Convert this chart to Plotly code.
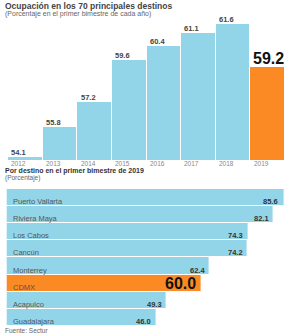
import plotly.graph_objects as go

years = [2012, 2013, 2014, 2015, 2016, 2017, 2018, 2019]
occupancy = [54.1, 55.8, 57.2, 59.6, 60.4, 61.1, 61.6, 59.2]

destinations = ["Puerto Vallarta", "Riviera Maya", "Los Cabos", "Cancún",
                "Monterrey", "CDMX", "Acapulco", "Guadalajara"]
dest_values = [85.6, 82.1, 74.3, 74.2, 62.4, 60.0, 49.3, 46.0]

title1 = "Ocupación en los 70 principales destinos"
sub1 = "(Porcentaje en el primer bimestre de cada año)"
title2 = "Por destino en el primer bimestre de 2019"
sub2 = "(Porcentaje)"
source = "Fuente: Sectur"

BLUE = "#93D5E8"
ORANGE = "#FB8A24"
FONT = "Liberation Sans"
W, H = 285, 333

def py(px):
    return 1 - px / H

top_colors = [ORANGE if y == 2019 else BLUE for y in years]
bot_colors = [ORANGE if d == "CDMX" else BLUE for d in destinations]

fig = go.Figure()
fig.add_trace(go.Bar(x=years, y=occupancy, marker=dict(color=top_colors, line=dict(color="white", width=1)),
                     xaxis="x", yaxis="y", hoverinfo="skip"))
fig.add_trace(go.Bar(y=destinations, x=dest_values, orientation="h",
                     marker=dict(color=bot_colors, line=dict(color="white", width=1)),
                     xaxis="x2", yaxis="y2", hoverinfo="skip"))

ann = []
ann.append(dict(text="<b>" + title1 + "</b>", x=3 / W, y=py(5.5), xref="paper", yref="paper",
                xanchor="left", yanchor="middle", showarrow=False, font=dict(size=8.5, color="#444", family=FONT)))
ann.append(dict(text=sub1, x=3 / W, y=py(13.5), xref="paper", yref="paper",
                xanchor="left", yanchor="middle", showarrow=False, font=dict(size=7, color="#666", family=FONT)))
ann.append(dict(text="<b>" + title2 + "</b>", x=3 / W, y=py(171), xref="paper", yref="paper",
                xanchor="left", yanchor="middle", showarrow=False, font=dict(size=7, color="#333", family=FONT)))
ann.append(dict(text=sub2, x=3 / W, y=py(178), xref="paper", yref="paper",
                xanchor="left", yanchor="middle", showarrow=False, font=dict(size=6.5, color="#666", family=FONT)))
ann.append(dict(text=source, x=3 / W, y=py(330), xref="paper", yref="paper",
                xanchor="left", yanchor="middle", showarrow=False, font=dict(size=6.5, color="#666", family=FONT)))

for yr, v in zip(years, occupancy):
    ann.append(dict(text=str(yr), x=yr, y=py(163), xref="x", yref="paper", xanchor="left", yanchor="middle",
                    xshift=-16, showarrow=False, font=dict(size=6.5, color="#888", family=FONT)))
    if yr == 2019:
        ann.append(dict(text="<b>%.1f</b>" % v, x=1, y=v, xref="paper", yref="y", xanchor="right", yanchor="bottom",
                        xshift=1, yshift=-2, showarrow=False, font=dict(size=16, color="#111", family=FONT)))
    else:
        ann.append(dict(text="<b>%.1f</b>" % v, x=yr, y=v, xref="x", yref="y", xanchor="left", yanchor="bottom",
                        xshift=-16, yshift=-2, showarrow=False, font=dict(size=7.5, color="#444", family=FONT)))

for d, v in zip(destinations, dest_values):
    ann.append(dict(text=d, x=0, y=d, xref="x2", yref="y2", xanchor="left", yanchor="middle",
                    xshift=4, yshift=-4, showarrow=False, font=dict(size=7.5, color="#555", family=FONT)))
    if d == "CDMX":
        ann.append(dict(text="<b>%.1f</b>" % v, x=v, y=d, xref="x2", yref="y2", xanchor="right", yanchor="middle",
                        xshift=-4, yshift=0, showarrow=False, font=dict(size=16, color="#111", family=FONT)))
    else:
        ann.append(dict(text="<b>%.1f</b>" % v, x=min(v, 84.9), y=d, xref="x2", yref="y2", xanchor="right",
                        yanchor="middle", xshift=-3, yshift=-4, showarrow=False,
                        font=dict(size=7.5, color="#333", family=FONT)))

fig.update_layout(
    width=W, height=H, margin=dict(l=0, r=0, t=0, b=0),
    paper_bgcolor="white", plot_bgcolor="white", showlegend=False, bargap=0,
    xaxis=dict(domain=[8 / W, 1], range=[2011.5, 2019.5], visible=False, fixedrange=True),
    yaxis=dict(domain=[py(160), py(20)], range=[53.93, 61.85], visible=False, fixedrange=True),
    xaxis2=dict(domain=[6.6 / W, 1], range=[0, 85.6], visible=False, fixedrange=True),
    yaxis2=dict(domain=[py(326), py(187)], autorange="reversed", visible=False, fixedrange=True,
                anchor="x2"),
    annotations=ann,
)
fig.update_xaxes(showgrid=False, zeroline=False)
fig.update_yaxes(showgrid=False, zeroline=False)
fig.write_html("out.html", config={"displayModeBar": False},
               post_script="document.body.style.margin='0';document.body.style.padding='0';")
